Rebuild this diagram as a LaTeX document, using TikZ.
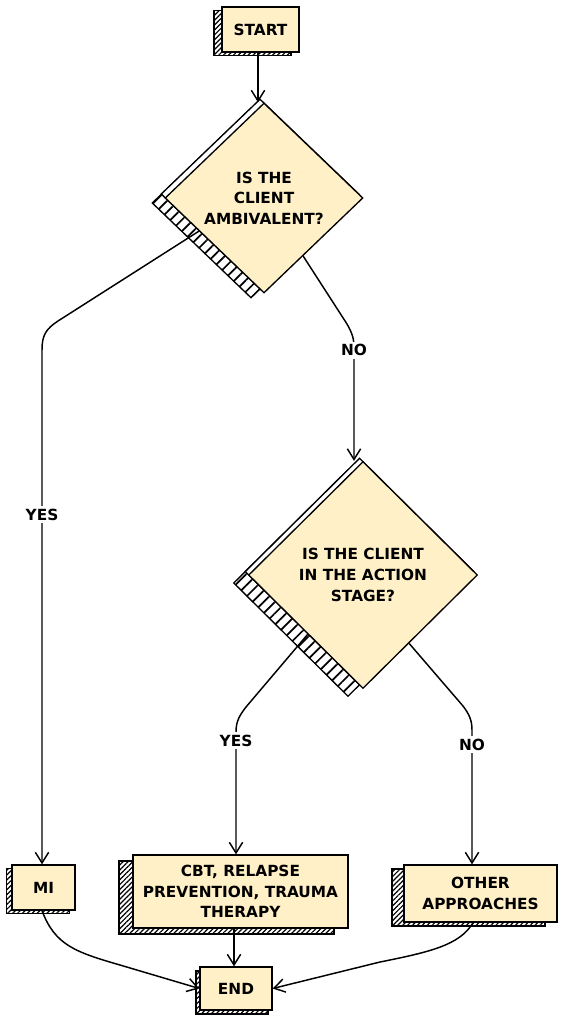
\documentclass[tikz,border=0pt]{standalone}
\usepackage{fontspec}
\setmainfont{DejaVu Sans}
\usetikzlibrary{shapes.geometric,shadows,patterns.meta,arrows.meta}
\definecolor{cream}{RGB}{255,240,199}
\tikzset{
  block/.style={draw, line width=1pt, fill=cream, align=center, inner sep=2pt, font=\fontsize{11.5}{15.5}\selectfont\bfseries},
  decide/.style={block, shape=diamond, aspect=1, inner sep=0pt},
  hatch/.style 2 args={general shadow={shadow xshift=#1, shadow yshift=#2, draw, line width=1pt, pattern={Lines[angle=45, distance=2.6pt, line width=0.9pt]}}},
  dhatch/.style 2 args={general shadow={shadow xshift=#1, shadow yshift=#2, draw, line width=1pt, pattern={Lines[angle=45, distance=6pt, line width=1.3pt]}}},
  dband/.style={general shadow={shadow xshift=-#1, shadow yshift=#1, draw, line width=1pt, fill=white}},
  link/.style={line width=1.1pt, -{Straight Barb[length=8pt,width=10pt]}},
  lbl/.style={fill=white, inner sep=2pt, font=\fontsize{11.5}{14}\selectfont\bfseries}
}
\begin{document}
\begin{tikzpicture}[x=0.75pt,y=0.75pt,yscale=-1]
        \useasboundingbox (0,0) rectangle (566,1024);

        %Shape: Rectangle [start]
        \node [block, hatch={-6pt}{-2.5pt}, minimum width=57.75pt, minimum height=33.75pt] (start) at (260.5,29.5) {START};
        %Shape: Diamond [ambivalent]
        \node [decide, dhatch={-9.75pt}{-3.75pt}, dband=3pt, minimum width=148.5pt, minimum height=142.5pt] (d1) at (264,198) {IS THE\\CLIENT\\AMBIVALENT?};
        %Shape: Diamond [action stage]
        \node [decide, dhatch={-11.25pt}{-6pt}, dband=2.6pt, minimum width=171.75pt, minimum height=170.25pt] (d2) at (363,575) {IS THE CLIENT\\IN THE ACTION\\STAGE?};
        %Shape: Rectangle [mi]
        \node [block, hatch={-4pt}{-2.5pt}, minimum width=47.25pt, minimum height=33.75pt] (mi) at (43.5,887.5) {MI};
        %Shape: Rectangle [cbt]
        \node [block, hatch={-10.5pt}{-4.5pt}, minimum width=161.25pt, minimum height=54.75pt] (cbt) at (240.5,891.5) {CBT, RELAPSE\\PREVENTION, TRAUMA\\THERAPY};
        %Shape: Rectangle [other]
        \node [block, hatch={-9pt}{-3pt}, minimum width=114.75pt, minimum height=42.75pt] (other) at (480.5,893.5) {OTHER\\APPROACHES};
        %Shape: Rectangle [end]
        \node [block, hatch={-3pt}{-3pt}, minimum width=54pt, minimum height=32.25pt] (end) at (236,988.5) {END};

        %Straight Lines
        \draw [link] (258,0 |- start.south) -- (258,0 |- d1.north);
        %Curve Lines
        \draw [link] (d1.207) -- (58,321) .. controls (46,329) and (42,335) .. (42,350) -- node [lbl, pos=0.32] {YES} (42,0 |- mi.north);
        %Curve Lines
        \draw [link] (d1.304) -- (347,324) .. controls (352,333) and (354,338) .. (354,348) -- node [lbl, pos=0.02] {NO} (354,0 |- d2.north);
        %Curve Lines
        \draw [link] (d2.227) -- (246,707) .. controls (239,716) and (236,722) .. (236,732) -- node [lbl, pos=0.07] {YES} (236,0 |- cbt.north);
        %Curve Lines
        \draw [link] (d2.304) -- (463,706) .. controls (469,714) and (472,720) .. (472,730) -- node [lbl, pos=0.11] {NO} (472,0 |- other.north);
        %Curve Lines
        \draw [link] (42,0 |- mi.south) .. controls (55,945) and (75,952) .. (120,965) -- (end.west);
        %Straight Lines
        \draw [link] (234,0 |- cbt.south) -- (234,0 |- end.north);
        %Curve Lines
        \draw [link] (473,0 |- other.south) .. controls (460,945) and (430,952) .. (380,962) -- (end.east);

\end{tikzpicture}
\end{document}
